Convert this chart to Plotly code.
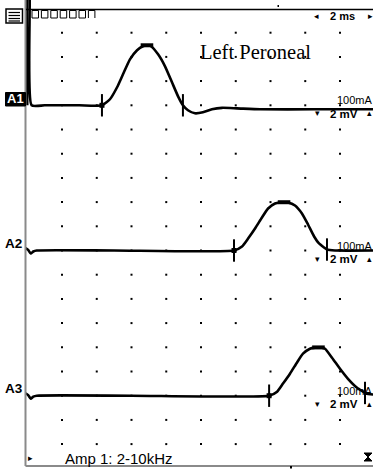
import numpy as np
import plotly.graph_objects as go

# ---------------- data ----------------
channel_labels = ["A1", "A2", "A3"]
channel_offset_div = [4, 10, 16]          # baseline position, divisions below top
stim_labels = ["100mA", "100mA", "100mA"]
sens_labels = ["2 mV", "2 mV", "2 mV"]
sweep_label = "2 ms"
title_text = "Left Peroneal"
filter_text = "Amp 1: 2-10kHz"

# A1 trace (ms, mV relative to baseline)
a1_t = [0.0, 0.05, 0.12, 0.25, 1.0, 3.0, 4.30, 4.76, 5.17, 5.51, 5.91, 6.32, 6.66, 6.89,
        7.12, 7.53, 7.93, 8.33, 8.68, 8.96, 9.25, 9.65, 10.11, 10.63, 11.21, 12.07, 13.40, 16.5, 20.0]
a1_mv = [0.0, 10.0, 10.0, 0.0, 0.0, 0.0, 0.0, 0.50, 1.49, 2.56, 3.80, 4.55, 4.88, 4.96,
         4.88, 4.21, 3.22, 1.90, 0.74, 0.0, -0.41, -0.66, -0.58, -0.33, -0.21, -0.25, -0.33, -0.33, -0.33]
a1_marks = [4.30, 6.89, 8.96]   # onset, peak, end (ms)

# A2 trace
a2_t = [-0.10, 0.05, 0.20, 0.35, 0.55, 5.0, 11.90, 12.36, 12.71, 13.11, 13.51, 13.86, 14.26, 14.55,
        14.78, 15.01, 15.41, 15.81, 16.16, 16.51, 16.79, 17.08, 17.25, 17.71, 20.0]
a2_mv = [0.20, 0.05, -0.25, -0.08, 0.0, 0.0, 0.0, 0.33, 0.99, 1.82, 2.73, 3.47, 3.88, 3.97,
         3.99, 3.97, 3.72, 3.06, 2.15, 1.16, 0.58, 0.25, 0.08, 0.0, 0.0]
a2_marks = [11.90, 14.78, 17.25]

# A3 trace
a3_t = [-0.10, 0.05, 0.20, 0.35, 0.55, 6.0, 13.92, 14.38, 14.72, 15.12, 15.52, 15.87, 16.27, 16.56,
        16.76, 16.96, 17.14, 17.54, 18.00, 18.46, 18.98, 19.33, 19.50, 20.0]
a3_mv = [0.20, 0.05, -0.25, -0.08, 0.0, 0.0, 0.0, 0.33, 1.00, 1.82, 2.73, 3.47, 3.88, 3.97,
         3.99, 3.97, 3.88, 3.14, 2.23, 1.40, 0.66, 0.33, 0.17, 0.08]
a3_marks = [13.92, 16.76, 19.44]

# ---------------- geometry ----------------
W, H = 373, 471
X0, DX = 27.25, 34.75       # pixel of t=0, pixels per division
Y0, DY = 8.5, 24.2
MS_PER_DIV = 2.0
MV_PER_DIV = 2.0


def xd(px):
    return (px - X0) / DX * MS_PER_DIV


def yd(py):
    return -(py - Y0) / DY * MV_PER_DIV


def xp(px):
    return px / W


def yp(py):
    return 1 - py / H


fig = go.Figure()

# dot grid
gx, gy = np.meshgrid(np.arange(1, 10) * MS_PER_DIV, -np.arange(1, 19) * MV_PER_DIV)
fig.add_trace(go.Scatter(x=gx.ravel(), y=gy.ravel(), mode="markers",
                         marker=dict(symbol="square", size=2, color="black", line=dict(width=0)),
                         hoverinfo="skip", showlegend=False))

traces = [(a1_t, a1_mv, a1_marks), (a2_t, a2_mv, a2_marks), (a3_t, a3_mv, a3_marks)]
for (t, mv, marks), off in zip(traces, channel_offset_div):
    base = -off * MV_PER_DIV
    y = [base + v for v in mv]
    fig.add_trace(go.Scatter(x=t, y=y, mode="lines",
                             line=dict(color="black", width=2.6, shape="spline", smoothing=0.5),
                             hoverinfo="skip", showlegend=False))
    my = [base + float(np.interp(m, t, mv)) for m in marks]
    # onset and end vertical ticks
    fig.add_trace(go.Scatter(x=[marks[0], marks[2]], y=[my[0], my[2]], mode="markers",
                             marker=dict(symbol="line-ns", size=16, color="black",
                                         line=dict(width=2, color="black")),
                             hoverinfo="skip", showlegend=False))
    # onset blob
    fig.add_trace(go.Scatter(x=[marks[0]], y=[my[0]], mode="markers",
                             marker=dict(symbol="square", size=5, color="black"),
                             hoverinfo="skip", showlegend=False))
    # peak bar
    fig.add_trace(go.Scatter(x=[marks[1]], y=[my[1]], mode="markers",
                             marker=dict(symbol="line-ew", size=9, color="black",
                                         line=dict(width=4, color="black")),
                             hoverinfo="skip", showlegend=False))

shapes = []
# frame lines
shapes.append(dict(type="line", xref="paper", yref="paper", x0=xp(25.5), x1=xp(25.5),
                   y0=yp(0), y1=yp(466), line=dict(color="#8a8a8a", width=2)))
shapes.append(dict(type="line", xref="paper", yref="paper", x0=xp(25.5), x1=xp(373),
                   y0=yp(466), y1=yp(466), line=dict(color="#8a8a8a", width=2)))
shapes.append(dict(type="line", xref="paper", yref="paper", x0=xp(26), x1=xp(373),
                   y0=yp(9.5), y1=yp(9.5), line=dict(color="black", width=1.5)))
# small ticks
shapes.append(dict(type="rect", xref="paper", yref="paper", x0=xp(277.5), x1=xp(279),
                   y0=yp(5), y1=yp(7), fillcolor="black", line=dict(width=0)))
shapes.append(dict(type="rect", xref="paper", yref="paper", x0=xp(290), x1=xp(292),
                   y0=yp(466), y1=yp(468.5), fillcolor="black", line=dict(width=0)))
# menu icon
shapes.append(dict(type="rect", xref="paper", yref="paper", x0=xp(6), x1=xp(22.5),
                   y0=yp(9), y1=yp(23), fillcolor="white", line=dict(color="black", width=1.5)))
for yy in [12.5, 15.5, 18.5, 21]:
    shapes.append(dict(type="line", xref="paper", yref="paper", x0=xp(8.5), x1=xp(20),
                       y0=yp(yy), y1=yp(yy), line=dict(color="black", width=1.2)))
# row of small boxes
for i in range(7):
    bx = 32 + i * 9.4
    if i < 6:
        shapes.append(dict(type="rect", xref="paper", yref="paper", x0=xp(bx), x1=xp(bx + 6.5),
                           y0=yp(10.5), y1=yp(18), line=dict(color="black", width=1)))
    else:
        shapes.append(dict(type="path", xref="paper", yref="paper",
                           path=f"M {xp(bx)},{yp(18)} L {xp(bx)},{yp(10.5)} L {xp(bx+6.5)},{yp(10.5)} L {xp(bx+6.5)},{yp(18)}",
                           line=dict(color="black", width=1)))
# A1 inverse label box
shapes.append(dict(type="rect", xref="paper", yref="paper", x0=xp(5.5), x1=xp(25.5),
                   y0=yp(92.5), y1=yp(106), fillcolor="black", line=dict(color="black", width=1)))
# hourglass icon at bottom right
hx, hy = 368, 457
shapes.append(dict(type="path", xref="paper", yref="paper",
                   path=(f"M {xp(hx-4)},{yp(hy-4)} L {xp(hx+4)},{yp(hy-4)} L {xp(hx)},{yp(hy)} "
                         f"L {xp(hx+4)},{yp(hy+4)} L {xp(hx-4)},{yp(hy+4)} L {xp(hx)},{yp(hy)} Z"),
                   fillcolor="black", line=dict(color="black", width=1)))

annotations = []
SANS = "Arial, Liberation Sans, DejaVu Sans"
SYM = "DejaVu Sans"


def ann(text, x, y, size, xanchor="left", color="black", family=SANS, bold=False):
    if bold:
        text = f"<b>{text}</b>"
    annotations.append(dict(text=text, x=xp(x), y=yp(y), xref="paper", yref="paper",
                            xanchor=xanchor, yanchor="middle", showarrow=False,
                            font=dict(size=size, color=color, family=family)))


ann(title_text, 198, 52, 20.5, family="Liberation Serif, Times New Roman, serif")
ann("◂", 316, 16, 9, xanchor="center", family=SYM)
ann(sweep_label, 328, 16.5, 11, bold=True)
ann("▸", 370.5, 16, 9, xanchor="center", family=SYM)

for lab, off, stim, sens in zip(channel_labels, channel_offset_div, stim_labels, sens_labels):
    base_py = Y0 + off * DY
    ann(stim, 375, base_py - 5, 11)
    annotations[-1]["xanchor"] = "right"
    ann("▾", 317, base_py + 8, 9, xanchor="center", family=SYM)
    ann(sens, 327.5, base_py + 8.5, 11.5, bold=True)
    ann("▴", 369, base_py + 8, 9, xanchor="center", family=SYM)
    if lab == "A1":
        ann(lab, 15.5, base_py - 6.5, 13, xanchor="center", color="white", bold=True)
    else:
        ann(lab, 14, base_py - 7, 13.5, xanchor="center", bold=True)

ann("▸", 30.5, 458, 9, xanchor="center", family=SYM)
ann(filter_text, 63, 458, 15)

fig.update_layout(
    width=W, height=H,
    margin=dict(l=0, r=0, t=0, b=0),
    paper_bgcolor="white", plot_bgcolor="white",
    showlegend=False,
    xaxis=dict(range=[xd(0), xd(W)], visible=False, fixedrange=True),
    yaxis=dict(range=[yd(H), yd(0)], visible=False, fixedrange=True),
    shapes=shapes,
    annotations=annotations,
)

fig.write_html("out.html", config={"displayModeBar": False})
